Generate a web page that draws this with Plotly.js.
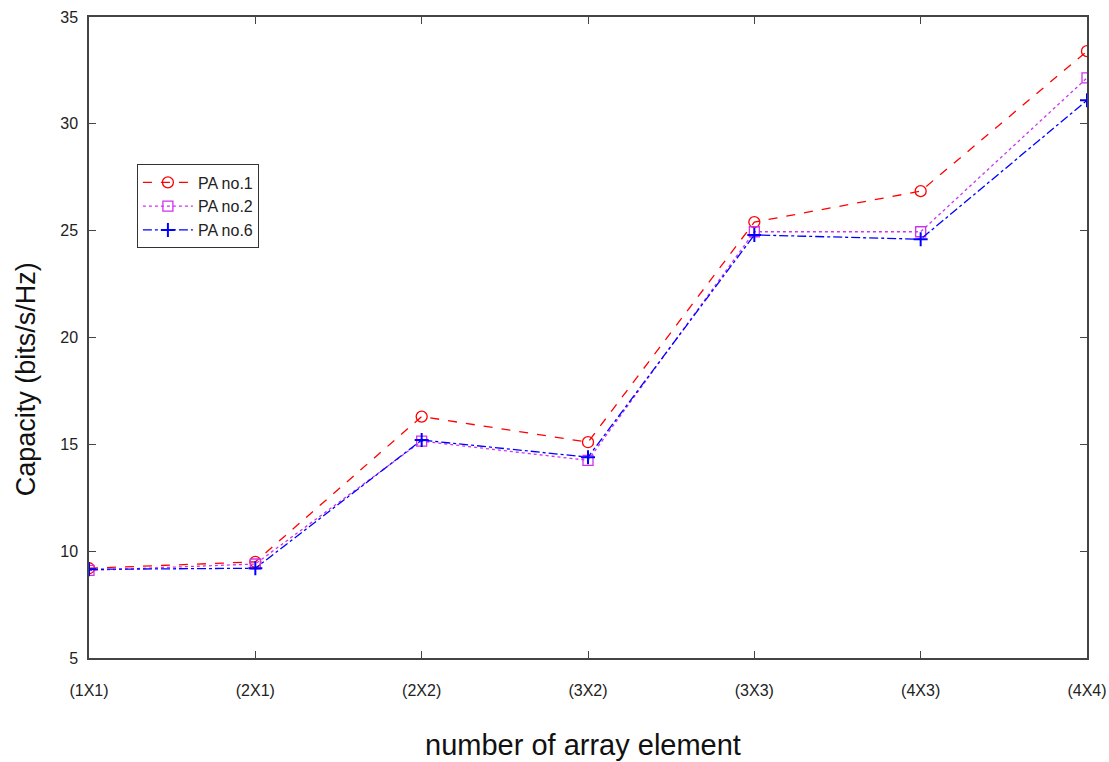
<!DOCTYPE html>
<html><head><meta charset="utf-8">
<script src="https://cdn.plot.ly/plotly-3.0.1.min.js"></script>
<style>body{margin:0;background:#fff}#c{width:1109px;height:762px}</style>
</head><body><div id="c"></div>
<script>
const categories = ["(1X1)","(2X1)","(2X2)","(3X2)","(3X3)","(4X3)","(4X4)"];
const pa1 = [9.2, 9.5, 16.3, 15.1, 25.4, 26.85, 33.4];
const pa2 = [9.1, 9.4, 15.15, 14.25, 24.95, 24.95, 32.15];
const pa6 = [9.15, 9.2, 15.2, 14.4, 24.8, 24.6, 31.1];
const xi = categories.map((_, i) => i);

const traces = [
  {x: xi, y: pa1, name: "PA no.1", mode: "lines+markers",
   line: {color: "#ff0000", dash: "dash", width: 1.3},
   marker: {symbol: "circle-open", size: 11, color: "#ff0000", line: {width: 1.3}}},
  {x: xi, y: pa2, name: "PA no.2", mode: "lines+markers",
   line: {color: "#cc33ee", dash: "dot", width: 1.3},
   marker: {symbol: "square-open", size: 10, color: "#cc33ee", line: {width: 1.3}}},
  {x: xi, y: pa6, name: "PA no.6", mode: "lines+markers",
   line: {color: "#0000ff", dash: "dashdot", width: 1.3},
   marker: {symbol: "cross-thin-open", size: 10, color: "#0000ff", line: {width: 2}}}
];

const layout = {
  width: 1109, height: 762,
  margin: {l: 89, r: 22, t: 17, b: 104},
  paper_bgcolor: "#fff", plot_bgcolor: "#fff",
  font: {family: "Arial, Liberation Sans, sans-serif", color: "#222"},
  showlegend: true,
  legend: {x: 0.048, y: 0.77, xanchor: "left", yanchor: "top",
           bgcolor: "#fff", bordercolor: "#333", borderwidth: 1, itemwidth: 50,
           font: {size: 16, color: "#222"}, tracegroupgap: 0},
  xaxis: {
    range: [0, 6], tickvals: xi, ticktext: categories,
    showgrid: false, zeroline: false, showline: true, mirror: "ticks",
    linecolor: "#444", linewidth: 1.5, ticks: "inside", ticklen: 7, tickcolor: "#444",
    tickfont: {size: 16}, ticklabelstandoff: 17
  },
  yaxis: {
    range: [5, 35], tickvals: [5,10,15,20,25,30,35],
    showgrid: false, zeroline: false, showline: true, mirror: "ticks",
    linecolor: "#444", linewidth: 1.5, ticks: "inside", ticklen: 7, tickcolor: "#444",
    tickfont: {size: 16}, ticklabelstandoff: 6
  },
  annotations: [
    {text: "number of array element", xref: "paper", yref: "paper",
     x: 0.495, y: -0.135, xanchor: "center", yanchor: "middle", showarrow: false,
     font: {size: 29, color: "#111"}},
    {text: "Capacity (bits/s/Hz)", xref: "paper", yref: "paper",
     x: -0.063, y: 0.435, xanchor: "center", yanchor: "middle", showarrow: false,
     textangle: -90, font: {size: 27, color: "#111"}}
  ]
};
Plotly.newPlot("c", traces, layout, {displayModeBar: false});
</script></body></html>
